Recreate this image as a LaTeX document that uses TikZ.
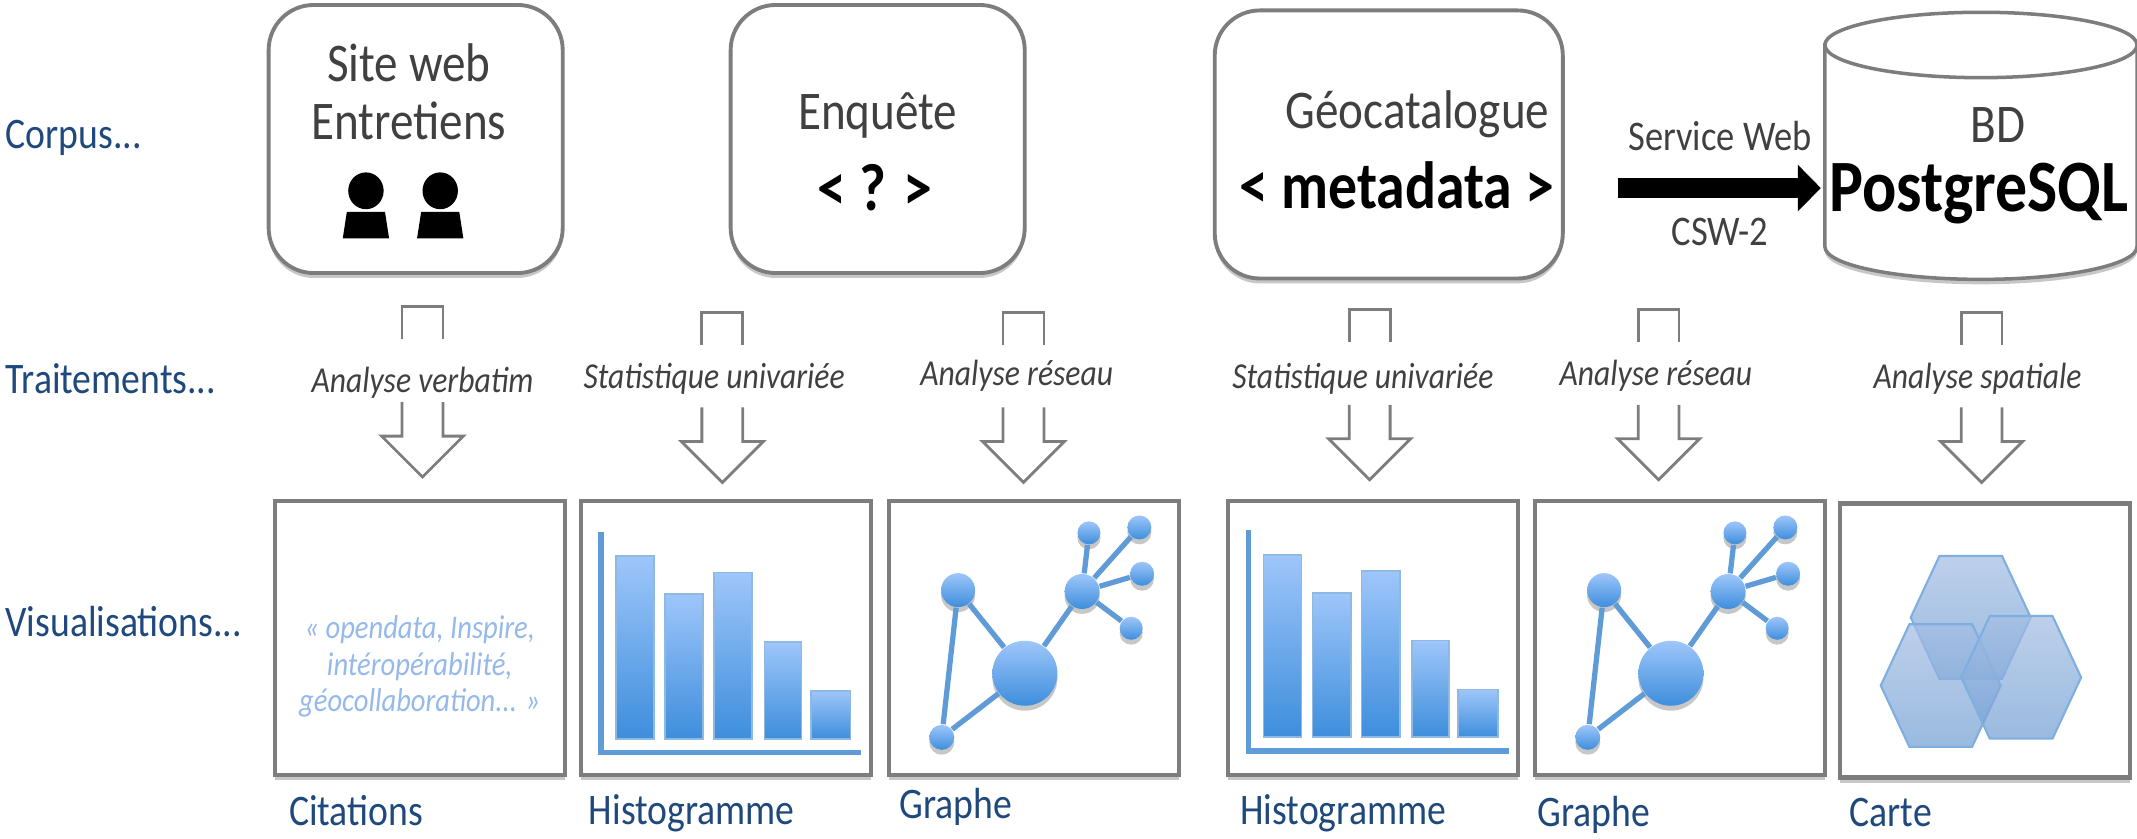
\documentclass[tikz,border=0pt]{standalone}
\usepackage{fontspec}
\setmainfont[FakeStretch=.865]{Carlito}
\usetikzlibrary{shadows,arrows.meta}
\definecolor{cadre}{RGB}{125,125,125}
\definecolor{bleutitre}{RGB}{31,73,125}
\definecolor{bleuclair}{RGB}{158,198,250}
\definecolor{bleufonce}{RGB}{62,142,220}
\definecolor{bleutrait}{RGB}{95,155,215}
\definecolor{bleucit}{RGB}{150,185,235}
\definecolor{hexhaut}{RGB}{165,190,228}
\definecolor{hexbas}{RGB}{115,160,212}
\newcommand{\taille}[1]{\fontsize{#1}{#1}\selectfont}
\tikzset{
	ombre/.style={drop shadow={shadow xshift=0pt,shadow yshift=-1.4pt,opacity=.22,fill=black}},
	corpusbox/.style={draw=cadre,line width=1.1pt,rounded corners=.45cm,fill=white,ombre,minimum width=#1,minimum height=2.68cm},
	vizbox/.style={draw=cadre,line width=1.2pt,fill=white,ombre,minimum width=2.9cm,minimum height=2.74cm},
	cuve/.style={draw=cadre,line width=1pt,fill=white},
	titre/.style={font=\taille{15.5},text=black!75},
	gras/.style={font=\taille{#1}\bfseries,text=black},
	ligne/.style={font=\taille{12.4},text=bleutitre,anchor=west},
	legende/.style={font=\taille{12.4},text=bleutitre,anchor=west},
	traitement/.style={font=\taille{10.4}\itshape,text=black!75},
	service/.style={font=\taille{12},text=black!75},
	fleche/.style={draw=cadre,line width=.8pt},
	barre/.style={top color=bleuclair,bottom color=bleufonce,draw=bleutrait!70,line width=.5pt},
	axe/.style={draw=bleutrait,line width=1.5pt},
	point/.style={circle,inner sep=0pt,minimum size=#1,top color=bleuclair,bottom color=bleufonce,ombre},
	lien/.style={draw=bleutrait,line width=1.5pt},
	hexa/.style={draw=bleutrait!80,line width=.6pt,top color=hexhaut,bottom color=hexbas,fill opacity=.72},
	pics/fluxbas/.style={code={
		\draw[fleche] (-15,24) -- (-15,0) -- (15,0) -- (15,24);
		\draw[fleche] (-15,70) -- (-15,95) -- (-30,95) -- (0,125) -- (30,95) -- (15,95) -- (15,70);
	}},
	pics/histo/.style={code={
		\draw[axe] (15,23) -- (15,185) -- (206,185);
		\draw[barre] (26,41) rectangle (54,175);
		\draw[barre] (62,69) rectangle (90,175);
		\draw[barre] (98,53) rectangle (126,175);
		\draw[barre] (135,104) rectangle (162,175);
		\draw[barre] (169,140) rectangle (198,175);
	}},
	pics/graphe/.style={code={
		\node[point=.65cm] (-grand) at (100,127) {};
		\node[point=.34cm] (-gauche) at (51,66) {};
		\node[point=.25cm] (-bas) at (39,174) {};
		\node[point=.35cm] (-hub) at (142,67) {};
		\node[point=.23cm] (-fa) at (147,24) {};
		\node[point=.24cm] (-fb) at (184,20) {};
		\node[point=.24cm] (-fc) at (186,54) {};
		\node[point=.23cm] (-fd) at (178,94) {};
		\draw[lien] (-gauche) -- (-grand);
		\draw[lien] (-gauche) -- (-bas);
		\draw[lien] (-bas) -- (-grand);
		\draw[lien] (-grand) -- (-hub);
		\draw[lien] (-hub) -- (-fa);
		\draw[lien] (-hub) -- (-fb);
		\draw[lien] (-hub) -- (-fc);
		\draw[lien] (-hub) -- (-fd);
	}},
	pics/alveole/.style={code={
		\draw[hexa] (-23,-45) -- (23,-45) -- (44,0) -- (23,45) -- (-23,45) -- (-44,0) -- cycle;
	}},
	pics/personne/.style={code={
		\fill[black] (0,0) ellipse (13 and 13.5);
		\fill[black] (-14,15.5) -- (14,15.5) -- (17,35) -- (-17,35) -- cycle;
	}},
}
\begin{document}
\begin{tikzpicture}[x=.01363cm,y=-.01363cm]
	\useasboundingbox (0,0) rectangle (1568,615);

	% corpus
	\node[corpusbox=2.94cm] (site) at (305,102) {};
	\node[titre] (sitea) at (300,46) {Site web};
	\node[titre] (siteb) at (300,89) {Entretiens};
	\pic at (268.5,140) {personne};
	\pic at (323,140) {personne};

	\node[corpusbox=2.94cm] (enq) at (644,102) {};
	\node[titre] (enqa) at (644,85) {Enquête};
	\node[gras=19] (enqb) at (642,138) {< ? >};

	\node[corpusbox=3.48cm] (geo) at (1019,106) {};
	\node[titre] (geoa) at (1040,84) {Géocatalogue};
	\node[gras=19] (geob) at (1025,136) {< metadata >};

	\draw[cuve,ombre] (1339,33) -- (1339,181) arc[start angle=180,end angle=0,x radius=114.5,y radius=24] -- (1568,33) -- cycle;
	\draw[cuve] (1453.5,33) ellipse (114.5 and 24);
	\node[titre] (pga) at (1466,92) {BD};
	\node[gras=21] (pgb) at (1452,142) {PostgreSQL};

	\coordinate (fluxa) at (1187,138);
	\coordinate (fluxb) at (1336,138);
	\draw[line width=5.8pt,-{Triangle[length=6.5pt,width=12.8pt]}] (fluxa) -- (fluxb);
	\node[service] (sw) at (1262,100) {Service Web};
	\node[service] (csw) at (1262,170) {CSW-2};

	% lignes
	\node[ligne] (corpus) at (-5,101) {Corpus...};
	\node[ligne] (trait) at (-5,278) {Traitements...};
	\node[ligne] (visu) at (-5,456) {Visualisations...};

	% traitements
	\pic at (310,225) {fluxbas};
	\node[traitement] (ta) at (310,281) {Analyse verbatim};
	\pic at (530,229) {fluxbas};
	\node[traitement] (tb) at (524,278) {Statistique univariée};
	\pic at (751,229) {fluxbas};
	\node[traitement] (tc) at (746,276) {Analyse réseau};
	\pic at (1005,227) {fluxbas};
	\node[traitement] (td) at (1000,278) {Statistique univariée};
	\pic at (1217,227) {fluxbas};
	\node[traitement] (te) at (1215,276) {Analyse réseau};
	\pic at (1454,229) {fluxbas};
	\node[traitement] (tf) at (1451,278) {Analyse spatiale};

	% visualisations
	\node[vizbox] (va) at (308,468) {};
	\node[font=\taille{9.4}\itshape,text=bleucit,align=center] (cit) at (308,489) {« opendata, Inspire,\\[1pt]intéropérabilité,\\[1pt]géocollaboration... »};
	\node[vizbox] (vb) at (532.5,468) {};
	\pic at (426,367) {histo};
	\node[vizbox] (vc) at (758.5,468) {};
	\pic (ga) at (652,367) {graphe};
	\node[vizbox] (vd) at (1007.5,468) {};
	\pic at (901,366) {histo};
	\node[vizbox] (ve) at (1232.5,468) {};
	\pic (gb) at (1126,367) {graphe};
	\node[vizbox] (vf) at (1456.5,470) {};
	\pic at (1446,453) {alveole};
	\pic at (1424,503) {alveole};
	\pic at (1483,497) {alveole};

	% legendes
	\node[legende] (la) at (203,595) {Citations};
	\node[legende] (lb) at (423,597) {Histogramme};
	\node[legende] (lc) at (651,592) {Graphe};
	\node[legende] (ld) at (901,597) {Histogramme};
	\node[legende] (le) at (1119,598) {Graphe};
	\node[legende] (lf) at (1348,596) {Carte};
\end{tikzpicture}
\end{document}
